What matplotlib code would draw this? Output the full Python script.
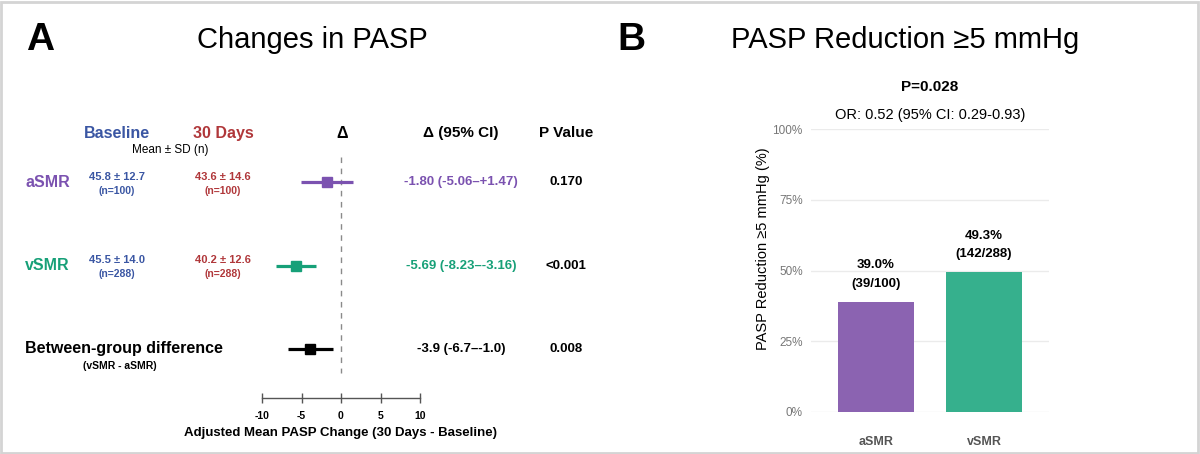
import matplotlib
matplotlib.use("Agg")
import matplotlib.pyplot as plt
import matplotlib.transforms as mtransforms
from matplotlib.patches import Rectangle

plt.rcParams['font.family'] = ['Liberation Sans', 'DejaVu Sans']

# ---------------- data ----------------
groups = ["aSMR", "vSMR"]
baseline_txt = ["45.8 ± 12.7", "45.5 ± 14.0"]
day30_txt = ["43.6 ± 14.6", "40.2 ± 12.6"]
n_txt = ["(n=100)", "(n=288)"]

forest_labels = ["aSMR", "vSMR", "Between-group difference"]
delta_est = [-1.80, -5.69, -3.9]
delta_lo = [-5.06, -8.23, -6.7]
delta_hi = [1.47, -3.16, -1.0]
delta_txt = ["-1.80 (-5.06–+1.47)", "-5.69 (-8.23–-3.16)", "-3.9 (-6.7–-1.0)"]
p_txt = ["0.170", "<0.001", "0.008"]
x_ticks = [-10, -5, 0, 5, 10]

bar_cats = ["aSMR", "vSMR"]
bar_pct = [39.0, 49.3]
bar_counts = ["(39/100)", "(142/288)"]
y_ticks = [0, 25, 50, 75, 100]
y_ticklabels = ["0%", "25%", "50%", "75%", "100%"]

# ---------------- styling ----------------
PURPLE = "#7b52b0"
GREEN = "#17a078"
BLACK = "#000000"
BLUE = "#3a56a3"
RED = "#b0373a"
BAR_PURPLE = "#8b63b1"
BAR_GREEN = "#36b08d"
row_colors = [PURPLE, GREEN, BLACK]
bar_colors = [BAR_PURPLE, BAR_GREEN]

W, H = 1200, 454
fig = plt.figure(figsize=(W / 100, H / 100), dpi=100)


def fx(px):
    return px / W


def fy(py):
    return 1 - py / H


# image frame
fig.patches.append(Rectangle((0.001, 0.002), 0.997, 0.994, transform=fig.transFigure,
                             fill=False, edgecolor="#d4d4d4", linewidth=2.0))

# ---------------- Panel A ----------------
fig.text(fx(40), fy(40), "A", ha="center", va="center", fontsize=28, fontweight="bold")
fig.text(fx(312), fy(40), "Changes in PASP", ha="center", va="center", fontsize=21)

ax_top, ax_bot = 140, 398
row_px = [182, 265.5, 349]
sp = row_px[1] - row_px[0]
ax = fig.add_axes([fx(262), fy(ax_bot), fx(420) - fx(262), (ax_bot - ax_top) / H])
ax.set_xlim(-10, 10)
ax.set_ylim((ax_bot - row_px[0]) / sp, (ax_top - row_px[0]) / sp)
for s in ["top", "right", "left"]:
    ax.spines[s].set_visible(False)
ax.spines["bottom"].set_color("#555555")
ax.spines["bottom"].set_linewidth(1.0)
ax.set_yticks([])
ax.set_xticks(x_ticks)
ax.set_xticklabels([str(t) for t in x_ticks], fontsize=7.5, fontweight="bold")
ax.tick_params(axis="x", direction="inout", length=7, width=1, color="#555555", pad=6)
ax.set_xlabel("Adjusted Mean PASP Change (30 Days - Baseline)", fontsize=9.5,
              fontweight="bold", labelpad=4)
ax.patch.set_alpha(0)

ax.vlines(0, (157 - row_px[0]) / sp, (373 - row_px[0]) / sp, colors="#8a8a8a",
          linestyles=(0, (4, 4)), linewidth=1.0, clip_on=False)
for i in range(len(forest_labels)):
    ax.hlines(i, delta_lo[i], delta_hi[i], colors=row_colors[i], linewidth=2.3, clip_on=False)
    ax.plot(delta_est[i], i, marker="s", markersize=7.5, color=row_colors[i], clip_on=False)

tr = mtransforms.blended_transform_factory(fig.transFigure, ax.transData)
hdr_y = (133 - row_px[0]) / sp
fig.text(fx(117), hdr_y, "Baseline", transform=tr, ha="center", va="center",
         fontsize=11.5, fontweight="bold", color=BLUE)
fig.text(fx(223), hdr_y, "30 Days", transform=tr, ha="center", va="center",
         fontsize=11.5, fontweight="bold", color=RED)
fig.text(fx(342), hdr_y, "Δ", transform=tr, ha="center", va="center",
         fontsize=11.5, fontweight="bold")
fig.text(fx(461), hdr_y, "Δ (95% CI)", transform=tr, ha="center", va="center",
         fontsize=11, fontweight="bold")
fig.text(fx(566), hdr_y, "P Value", transform=tr, ha="center", va="center",
         fontsize=11, fontweight="bold")
fig.text(fx(170), (150 - row_px[0]) / sp, "Mean ± SD (n)", transform=tr, ha="center",
         va="center", fontsize=8.5)

for i, lab in enumerate(forest_labels):
    fig.text(fx(25), i, lab, transform=tr, ha="left", va="center", fontsize=11.5,
             fontweight="bold", color=row_colors[i])
    fig.text(fx(461), i, delta_txt[i], transform=tr, ha="center", va="center",
             fontsize=9.5, fontweight="bold", color=row_colors[i])
    fig.text(fx(566), i, p_txt[i], transform=tr, ha="center", va="center",
             fontsize=9.5, fontweight="bold", color=BLACK)

for i in range(len(groups)):
    fig.text(fx(117), i - 5.5 / sp, baseline_txt[i], transform=tr, ha="center", va="center",
             fontsize=8, fontweight="bold", color=BLUE)
    fig.text(fx(117), i + 8.5 / sp, n_txt[i], transform=tr, ha="center", va="center",
             fontsize=7.5, fontweight="bold", color=BLUE)
    fig.text(fx(223), i - 5.5 / sp, day30_txt[i], transform=tr, ha="center", va="center",
             fontsize=8, fontweight="bold", color=RED)
    fig.text(fx(223), i + 8.5 / sp, n_txt[i], transform=tr, ha="center", va="center",
             fontsize=7.5, fontweight="bold", color=RED)

fig.text(fx(120), 2 + 17 / sp, "(vSMR - aSMR)", transform=tr, ha="center", va="center",
         fontsize=7.5, fontweight="bold")

# ---------------- Panel B ----------------
fig.text(fx(631), fy(40), "B", ha="center", va="center", fontsize=28, fontweight="bold")
fig.text(fx(905), fy(40), "PASP Reduction ≥5 mmHg", ha="center", va="center", fontsize=21)

bx_l, bx_r, by_t, by_b = 811, 1049, 129, 412
ax2 = fig.add_axes([fx(bx_l), fy(by_b), fx(bx_r) - fx(bx_l), (by_b - by_t) / H])
xpos = list(range(len(bar_cats)))
ax2.bar(xpos, bar_pct, width=0.70, color=bar_colors, zorder=2)
ax2.set_xlim(-0.6, len(bar_cats) - 0.4)
ax2.set_ylim(0, 100)
for s in ax2.spines.values():
    s.set_visible(False)
ax2.set_yticks(y_ticks)
ax2.set_yticklabels(y_ticklabels, fontsize=8.5, color="#777777")
ax2.tick_params(axis="y", length=0, pad=6)
ax2.yaxis.grid(True, color="#ebebeb", linewidth=1.0, zorder=0)
ax2.set_axisbelow(True)
ax2.set_xticks(xpos)
ax2.set_xticklabels(bar_cats, fontsize=9, fontweight="bold", color="#555555")
ax2.tick_params(axis="x", length=0, pad=17)
ax2.set_ylabel("PASP Reduction ≥5 mmHg (%)", fontsize=10.5)
ax2.yaxis.set_label_coords((770 - bx_l) / (bx_r - bx_l), (by_b - 249) / (by_b - by_t))

for i in range(len(bar_cats)):
    ax2.annotate(f"{bar_pct[i]:.1f}%", (xpos[i], bar_pct[i]), xytext=(0, 26.5),
                 textcoords="offset points", ha="center", va="center",
                 fontsize=9.5, fontweight="bold", annotation_clip=False)
    ax2.annotate(bar_counts[i], (xpos[i], bar_pct[i]), xytext=(0, 13),
                 textcoords="offset points", ha="center", va="center",
                 fontsize=9.5, fontweight="bold", annotation_clip=False)

fig.text(fx(930), fy(87), "P=0.028", ha="center", va="center", fontsize=11, fontweight="bold")
fig.text(fx(930), fy(115), "OR: 0.52 (95% CI: 0.29-0.93)", ha="center", va="center",
         fontsize=10.5)

fig.savefig("out.png", dpi=100, facecolor="white")
